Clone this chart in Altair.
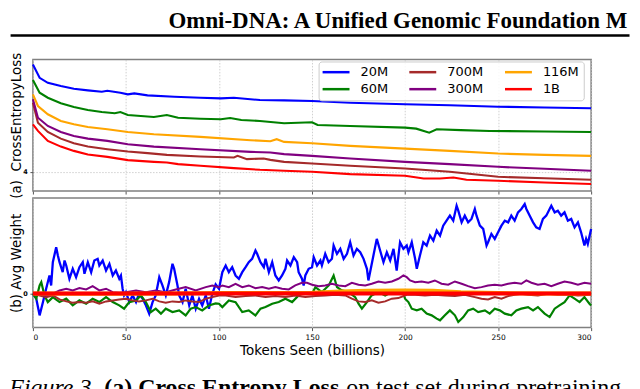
import altair as alt
import pandas as pd

# ---------------- text ----------------
HEADER = "Omni-DNA: A Unified Genomic Foundation M"
CAPTION_FIG = "Figure 3."
CAPTION_BOLD = "(a) Cross Entropy Loss"
CAPTION_REST = "on test set during pretraining"
TITLE_A = "(a)\u00a0\u00a0CrossEntropyLoss"
TITLE_B = "(b) Avg Weight"
X_TITLE = "Tokens Seen (billions)"

MODELS = ["20M", "60M", "700M", "300M", "116M", "1B"]
COLORS = ["#0000ff", "#008000", "#a52a2a", "#800080", "#ffa500", "#ff0000"]
X_TICKS = [0, 50, 100, 150, 200, 250, 300]
LOSS_TICKS = [4]
WEIGHT_TICKS = [0]

# ---------------- (a) cross entropy loss: (tokens in billions, loss) ----------------
loss_20m = [(0, 5.077), (3.6, 4.943), (8, 4.893), (15, 4.86), (22, 4.833), (29.5, 4.817),
            (37, 4.803), (40, 4.813), (47, 4.793), (51, 4.777), (54.5, 4.787), (61.6, 4.767),
            (76, 4.753), (90, 4.743), (101, 4.737), (108, 4.743), (122, 4.72), (135, 4.717),
            (150, 4.71), (170.5, 4.693), (200, 4.677), (224, 4.667), (250, 4.653), (275, 4.645),
            (300, 4.637)]
loss_60m = [(0, 4.92), (3.6, 4.793), (8, 4.743), (15, 4.687), (22, 4.65), (29.5, 4.62),
            (37, 4.6), (44, 4.587), (47, 4.6), (51, 4.57), (65, 4.55), (72, 4.57), (78, 4.543),
            (90, 4.533), (101, 4.527), (106, 4.54), (112, 4.52), (122, 4.51), (135, 4.487),
            (150, 4.497), (153, 4.47), (170.5, 4.46), (200, 4.443), (206, 4.433), (213, 4.393),
            (217, 4.427), (230, 4.418), (245.5, 4.41), (275, 4.405), (300, 4.4)]
loss_116m = [(0, 4.777), (2.7, 4.66), (8, 4.577), (15, 4.51), (22, 4.477), (29.5, 4.45),
             (40, 4.427), (51, 4.4), (65, 4.377), (90, 4.35), (117, 4.317), (127.6, 4.307),
             (131, 4.327), (135, 4.3), (150, 4.287), (170.5, 4.26), (200, 4.233), (224, 4.21),
             (250, 4.183), (275, 4.17), (300, 4.16)]
loss_300m = [(0, 4.727), (2.7, 4.543), (8, 4.46), (15, 4.4), (22, 4.36), (29.5, 4.333),
             (40, 4.31), (51, 4.277), (65, 4.253), (90, 4.227), (117, 4.2), (127.6, 4.193),
             (135, 4.177), (150, 4.16), (170.5, 4.133), (200, 4.1), (224, 4.077), (250, 4.05),
             (275, 4.03), (300, 4.01)]
loss_700m = [(0, 4.693), (2.7, 4.493), (8, 4.4), (15, 4.333), (22, 4.287), (29.5, 4.253),
             (40, 4.227), (51, 4.203), (61.6, 4.187), (72, 4.17), (90, 4.153), (108, 4.143),
             (110, 4.16), (115, 4.127), (124, 4.133), (127.6, 4.12), (135, 4.1), (150, 4.083),
             (170.5, 4.06), (200, 4.033), (224, 4.0), (250, 3.95), (275, 3.935), (300, 3.92)]
loss_1b = [(0, 4.477), (2.7, 4.41), (8, 4.31), (15, 4.253), (22, 4.21), (29.5, 4.173),
           (40, 4.15), (51, 4.117), (65, 4.1), (72, 4.093), (78, 4.077), (90, 4.06),
           (108, 4.037), (122, 4.02), (135, 4.01), (150, 4.0), (170.5, 3.977), (200, 3.96),
           (210, 3.933), (218.7, 3.933), (226, 3.943), (233, 3.92), (250, 3.91), (275, 3.893),
           (300, 3.877)]

# ---------------- (b) average weight: (tokens in billions, weight) ----------------
weight_20m = [(0, -0.003), (1.8, -0.053), (3.6, -0.22), (5.4, -0.087), (7.1, 0.047), (8.9, 0.18),
              (9.8, 0.08), (10.7, 0.313), (12.5, 0.463), (13.4, 0.38), (14.3, 0.313), (16, 0.213),
              (17, 0.33), (17.9, 0.28), (19.6, 0.147), (21.4, 0.247), (23.2, 0.163), (25, 0.263),
              (26.8, 0.313), (27.7, 0.197), (29.5, 0.313), (31.3, 0.213), (33, 0.33), (34.8, 0.347),
              (35.7, 0.28), (37.5, 0.33), (39.3, 0.23), (41.1, 0.297), (42.9, 0.18), (44.6, 0.23),
              (46.4, 0.147), (47.3, 0.18), (48.2, 0.047), (49, -0.02), (50, 0.013), (51.8, -0.087),
              (53.6, -0.02), (55.4, -0.087), (57, -0.003), (59, -0.053), (60.7, -0.12), (62.5, -0.203),
              (64.3, -0.087), (66, -0.02), (67.9, 0.163), (69.6, 0.08), (71.4, -0.02), (73.2, 0.113),
              (75, 0.297), (75.9, 0.247), (77.7, 0.08), (78.6, -0.02), (80.4, -0.087), (82.1, 0.047),
              (84, -0.12), (85.7, -0.02), (87.5, -0.153), (89.3, -0.053), (91, -0.12), (92.9, -0.02),
              (94.6, -0.153), (96.4, -0.003), (98.2, 0.09), (100, 0.047), (101.8, 0.213), (103.6, 0.28),
              (105.3, 0.213), (107.1, 0.263), (108.9, 0.18), (110.7, 0.147), (112.5, 0.213),
              (114.3, 0.263), (116, 0.313), (117.8, 0.347), (119.6, 0.43), (120.5, 0.397),
              (122.3, 0.313), (124.1, 0.263), (125, 0.347), (126.8, 0.213), (128.6, 0.313),
              (130.3, 0.18), (132.1, 0.13), (133.9, 0.18), (135.7, 0.247), (136.6, 0.33),
              (138.4, 0.28), (140.2, 0.363), (142, 0.313), (142.8, 0.213), (144.6, 0.147),
              (145.5, 0.08), (146.4, 0.18), (148.2, 0.247), (150, 0.263), (150.9, 0.363),
              (152.7, 0.28), (154.5, 0.33), (155.3, 0.28), (157.1, 0.397), (158.9, 0.313),
              (160.7, 0.347), (161.6, 0.48), (163.4, 0.397), (165.2, 0.447), (167, 0.347),
              (168.8, 0.397), (170.5, 0.513), (172.3, 0.38), (174.1, 0.447), (175.9, 0.413),
              (177.7, 0.347), (179.5, 0.247), (180.3, 0.13), (181.2, 0.213), (183, 0.38),
              (184.8, 0.547), (186.6, 0.43), (188.4, 0.313), (190.2, 0.413), (192, 0.33),
              (193.8, 0.447), (195.5, 0.23), (197.3, 0.513), (199.1, 0.447), (200.9, 0.48),
              (201.8, 0.413), (203.6, 0.513), (205.4, 0.347), (206.3, 0.247), (208, 0.38),
              (209.8, 0.513), (211.6, 0.48), (213.4, 0.58), (215.2, 0.53), (217, 0.63),
              (218.8, 0.58), (220.5, 0.68), (222.3, 0.73), (224.1, 0.78), (225.9, 0.73),
              (227.7, 0.88), (228.6, 0.83), (230.4, 0.713), (232.1, 0.78), (233.9, 0.713),
              (235.7, 0.747), (237.5, 0.847), (238.4, 0.78), (240.2, 0.68), (242, 0.647),
              (243.8, 0.48), (244.6, 0.513), (246.4, 0.597), (248.2, 0.547), (250, 0.613),
              (251.8, 0.68), (253.6, 0.73), (255.4, 0.713), (257.1, 0.78), (258.9, 0.73),
              (260.7, 0.813), (262.5, 0.847), (264.3, 0.897), (265.2, 0.847), (267, 0.78),
              (268.8, 0.713), (270.5, 0.663), (272.3, 0.647), (274.1, 0.747), (275.9, 0.78),
              (277.7, 0.847), (278.6, 0.88), (280.4, 0.813), (282.1, 0.83), (283.9, 0.78),
              (285.7, 0.813), (287.5, 0.73), (289.3, 0.747), (291.1, 0.663), (292.9, 0.713),
              (294.6, 0.613), (296.4, 0.48), (297.3, 0.547), (298.2, 0.497), (300, 0.647)]
weight_60m = [(0, -0.003), (1.8, -0.053), (3.6, 0.08), (4.5, 0.113), (6.2, -0.02), (8, -0.087),
              (10.7, -0.037), (14.3, -0.087), (17.9, -0.053), (21.4, -0.12), (25, -0.07),
              (28.6, -0.103), (32.1, -0.053), (35.7, -0.087), (39.3, -0.037), (42.9, -0.087),
              (46.4, -0.12), (49, -0.153), (51.8, -0.087), (55.4, -0.07), (58, -0.02), (60.7, -0.087),
              (63.4, -0.187), (66, -0.153), (68.8, -0.203), (71.4, -0.153), (75, -0.187),
              (78.6, -0.17), (82.1, -0.22), (84.8, -0.153), (87.5, -0.137), (91, -0.17),
              (94.6, -0.12), (98.2, -0.1), (100, -0.103), (101.8, -0.137), (105.3, -0.07),
              (108.9, -0.087), (112.5, -0.187), (116, -0.17), (119.6, -0.22), (122.3, -0.153),
              (125, -0.137), (128.6, -0.103), (132.1, -0.087), (135.7, -0.053), (139.3, -0.087),
              (142.8, -0.02), (146.4, 0.013), (150, -0.003), (151.8, 0.063), (155.3, 0.013),
              (159, 0.08), (161.6, 0.18), (163.4, 0.063), (166, 0.03), (169.6, 0.013),
              (173.2, -0.037), (175, -0.103), (176.8, -0.153), (179.5, -0.087), (182, -0.02),
              (185.7, 0.013), (189.3, -0.02), (192.9, 0.013), (196.4, 0.03), (199.1, -0.003),
              (200, -0.053), (201.8, -0.087), (203.6, -0.153), (206.3, -0.17), (208.9, -0.153),
              (211.6, -0.203), (214.3, -0.22), (217, -0.253), (218.8, -0.27), (221.4, -0.22),
              (224.1, -0.17), (226.8, -0.22), (228.6, -0.287), (231.3, -0.237), (233.9, -0.17),
              (236.6, -0.153), (239.3, -0.187), (242.9, -0.17), (245.5, -0.203), (248.2, -0.153),
              (250.9, -0.17), (253.6, -0.203), (257.1, -0.22), (259.8, -0.17), (262.5, -0.153),
              (266.1, -0.137), (268.8, -0.17), (271.4, -0.137), (275, -0.203), (277.7, -0.237),
              (280.4, -0.153), (283, -0.12), (285.7, -0.087), (288.4, -0.02), (291.1, -0.053),
              (293.8, -0.087), (296.4, -0.037), (299.1, -0.103), (300, -0.12)]
weight_700m = [(0, -0.003), (3.6, -0.02), (7.1, -0.037), (10.7, -0.02), (14.3, -0.06), (17.9, -0.08),
               (21.4, -0.093), (25, -0.087), (28.6, -0.093), (32.1, -0.08), (35.7, -0.103),
               (39.3, -0.08), (42.9, -0.07), (46.4, -0.06), (50, -0.053), (53.6, -0.07), (57, -0.08),
               (60.7, -0.07), (64.3, -0.053), (67.9, -0.08), (71.4, -0.093), (75, -0.08),
               (78.6, -0.087), (82.1, -0.07), (85.7, -0.08), (89.3, -0.087), (92.9, -0.053),
               (96.4, -0.037), (100, -0.02), (103.6, -0.02), (108.9, -0.037), (114.3, -0.027),
               (119.6, -0.02), (125, -0.037), (130.3, -0.027), (135.7, -0.037), (141, -0.02),
               (146.4, -0.037), (151.8, -0.027), (157.1, -0.02), (162.5, -0.013), (167.9, -0.02),
               (171.4, -0.053), (175, -0.08), (178.6, -0.087), (182.1, -0.07), (185.7, -0.093),
               (189.3, -0.08), (192.9, -0.053), (196.4, -0.047), (200.9, -0.013), (205.4, -0.013),
               (210.7, -0.02), (216, -0.013), (221.4, -0.02), (226.8, -0.027), (232.1, -0.013),
               (237.5, -0.037), (241.1, -0.053), (244.6, -0.06), (248.2, -0.037), (251.8, -0.053),
               (255.4, -0.027), (258.9, -0.013), (262.5, -0.003), (266.1, -0.013), (271.4, -0.02),
               (276.8, -0.003), (282.1, -0.013), (287.5, -0.01), (292.9, -0.02), (300, -0.013)]
weight_300m = [(0, -0.003), (7.1, -0.02), (10.7, -0.003), (14.3, 0.03), (17.9, 0.047), (21.4, 0.03),
               (25, 0.053), (28.6, 0.04), (32.1, 0.073), (35.7, 0.03), (39.3, 0.047), (42.9, 0.013),
               (46.4, 0.007), (50, 0.013), (55.4, 0.03), (60.7, 0.013), (66, 0.03), (71.4, 0.013),
               (76.8, 0.04), (82.1, 0.063), (87.5, 0.03), (92.9, 0.063), (96.4, 0.08), (100, 0.063),
               (101.8, 0.08), (105.3, 0.063), (108.9, 0.097), (112.5, 0.063), (116, 0.08),
               (119.6, 0.053), (123.2, 0.063), (126.8, 0.047), (130.3, 0.063), (133.9, 0.047),
               (137.5, 0.04), (141, 0.08), (144.6, 0.107), (147.3, 0.107), (150, 0.087),
               (153.6, 0.073), (157.1, 0.08), (160.7, 0.097), (164.3, 0.08), (167.9, 0.073),
               (171.4, 0.107), (175, 0.087), (178.6, 0.08), (182.1, 0.097), (185.7, 0.12),
               (189.3, 0.107), (192.9, 0.12), (196.4, 0.147), (199.1, 0.18), (200.9, 0.163),
               (202.7, 0.13), (205.4, 0.113), (208.9, 0.12), (212.5, 0.107), (216, 0.13),
               (219.6, 0.097), (223.2, 0.087), (226.8, 0.12), (230.4, 0.097), (233.9, 0.073),
               (237.5, 0.053), (241.1, 0.063), (244.6, 0.08), (248.2, 0.087), (251.8, 0.08),
               (255.4, 0.097), (258.9, 0.107), (262.5, 0.097), (265.2, 0.13), (267.9, 0.107),
               (271.4, 0.087), (275, 0.097), (278.6, 0.073), (282.1, 0.097), (285.7, 0.12),
               (289.3, 0.107), (292.9, 0.087), (296.4, 0.107), (300, 0.097)]
weight_116m = [(0, 0.0), (25, -0.003), (50, -0.003), (75, 0.0), (100, 0.003), (125, 0.003),
               (150, 0.007), (165, 0.02), (180, 0.027), (200, 0.03), (215, 0.027), (230, 0.013),
               (250, 0.003), (275, 0.0), (300, 0.0)]
weight_1b = [(0, 0.0), (50, 0.0), (100, 0.0), (150, 0.0), (200, 0.0), (250, 0.0), (300, 0.0)]

LOSS = {"20M": loss_20m, "60M": loss_60m, "700M": loss_700m, "300M": loss_300m,
        "116M": loss_116m, "1B": loss_1b}
WEIGHT = {"20M": weight_20m, "60M": weight_60m, "700M": weight_700m, "300M": weight_300m,
          "116M": weight_116m, "1B": weight_1b}


def to_frame(series, name):
    rows = []
    for m, pts in series.items():
        for t, v in pts:
            rows.append({"model": m, "tokens": t, name: v})
    return pd.DataFrame(rows)


top_df = to_frame(LOSS, "loss")
bot_df = to_frame(WEIGHT, "weight")
one = pd.DataFrame({"k": [0]})

SANS = "DejaVu Sans"
SERIF = "Liberation Serif"
W, H1, H2 = 560, 132, 130
color_of = dict(zip(MODELS, COLORS))
grid_kw = dict(grid=True, gridColor="#c4c4c4", gridDash=[1.5, 1.5], gridWidth=0.8)
x_scale = alt.Scale(domain=[0, 300], nice=False, zero=False)

# ---------------- top panel ----------------
x_axis_top = alt.Axis(values=X_TICKS, labels=False, tickSize=3, tickColor="#555555",
                      domain=False, **grid_kw)
y_axis_top = alt.Axis(values=LOSS_TICKS, format="d", labelFontSize=6.5, labelFontWeight="bold",
                      labelPadding=2.7, tickSize=3, tickColor="#555555", domain=False,
                      title=TITLE_A, titleX=-12.7, titleY=H1 / 2, titleAngle=270,
                      titleAlign="center", titleBaseline="alphabetic", titleFontSize=13.5,
                      **grid_kw)
legend = alt.Legend(title=None, orient="none", legendX=286.6, legendY=2, columns=3,
                    symbolType="M-3,0H3", symbolSize=81, symbolOffset=7, symbolStrokeWidth=2.5,
                    labelFont=SANS, labelFontSize=13, labelColor="black", labelOffset=18,
                    columnPadding=16, rowPadding=3.3, padding=4, strokeColor="#cccccc",
                    fillColor="rgba(255,255,255,0.85)", cornerRadius=3)

top_layers = []
for m in MODELS:
    top_layers.append(
        alt.Chart(top_df).transform_filter(alt.datum.model == m).mark_line(strokeWidth=2.1).encode(
            x=alt.X("tokens:Q", scale=x_scale, axis=x_axis_top, title=None),
            y=alt.Y("loss:Q", scale=alt.Scale(domain=[3.807, 5.127], nice=False, zero=False),
                    axis=y_axis_top),
            color=alt.Color("model:N", scale=alt.Scale(domain=MODELS, range=COLORS),
                            legend=legend),
        )
    )

header = alt.Chart(one).mark_text(align="left", baseline="alphabetic", font=SERIF, fontSize=23,
                                  fontWeight="bold", color="black").encode(
    x=alt.value(136), y=alt.value(-31.5), text=alt.value(HEADER))
header_rule = alt.Chart(one).mark_rule(color="black", strokeWidth=2.5).encode(
    x=alt.value(-22.4), x2=alt.value(598.5), y=alt.value(-24))

top = alt.layer(*top_layers, header_rule, header).properties(width=W, height=H1)

# ---------------- bottom panel ----------------
x_axis_bot = alt.Axis(values=X_TICKS, format="d", labelFontSize=7.5, labelPadding=2.7, tickSize=3,
                      tickColor="#555555", domain=False, title=X_TITLE, titleFontSize=13.5,
                      titlePadding=3, **grid_kw)
y_axis_bot = alt.Axis(values=WEIGHT_TICKS, format="d", labelFontSize=6.5, labelFontWeight="bold",
                      labelPadding=2.7, tickSize=3, tickColor="#555555", domain=False,
                      title=TITLE_B, titleX=-12.7, titleY=H2 / 2, titleAngle=270,
                      titleAlign="center", titleBaseline="alphabetic", titleFontSize=13.5,
                      **grid_kw)
widths = {"20M": 2.3, "60M": 2.2, "700M": 2.0, "300M": 2.0, "116M": 4.0, "1B": 4.0}
bot_layers = []
for m in MODELS:
    bot_layers.append(
        alt.Chart(bot_df).transform_filter(alt.datum.model == m).mark_line(
            strokeWidth=widths[m], color=color_of[m]).encode(
            x=alt.X("tokens:Q", scale=x_scale, axis=x_axis_bot),
            y=alt.Y("weight:Q", scale=alt.Scale(domain=[-0.343, 0.957], nice=False, zero=False),
                    axis=y_axis_bot),
        )
    )

cap_kw = dict(align="left", baseline="alphabetic", font=SERIF, fontSize=24, color="black")
cap1 = alt.Chart(one).mark_text(fontStyle="italic", **cap_kw).encode(
    x=alt.value(-23.7), y=alt.value(198), text=alt.value(CAPTION_FIG))
cap2 = alt.Chart(one).mark_text(fontWeight="bold", **cap_kw).encode(
    x=alt.value(71.6), y=alt.value(198), text=alt.value(CAPTION_BOLD))
cap3 = alt.Chart(one).mark_text(**cap_kw).encode(
    x=alt.value(314.3), y=alt.value(198), text=alt.value(CAPTION_REST))

bottom = alt.layer(*bot_layers, cap1, cap2, cap3).properties(width=W, height=H2)

chart = alt.vconcat(top, bottom, spacing=7, bounds="flush", padding=0)
chart = chart.resolve_scale(color="independent").resolve_legend(color="independent")
chart = chart.configure_view(stroke="#808080", strokeWidth=1.5).configure_axis(
    labelFont=SANS, titleFont=SANS, labelColor="black", titleColor="black",
    titleFontWeight="normal")

chart.save("out.html", embed_options={"renderer": "svg", "actions": False})
